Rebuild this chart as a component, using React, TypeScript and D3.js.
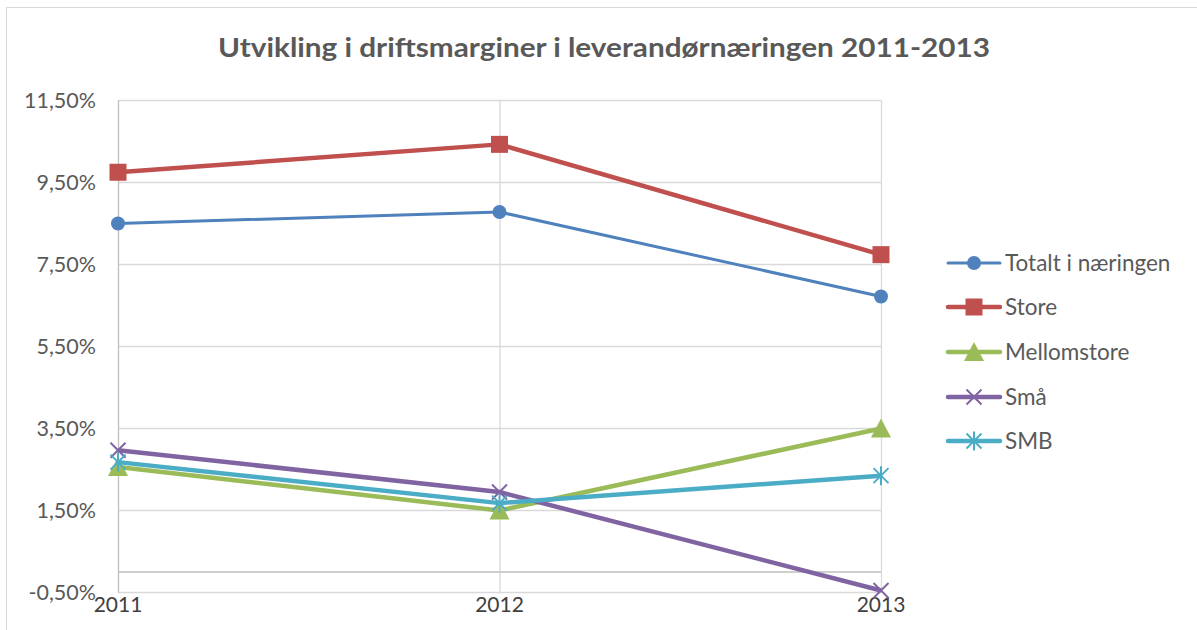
import React from "react";
import * as d3 from "d3";

const years = ["2011", "2012", "2013"];
const seriesNames = ["Totalt i næringen", "Store", "Mellomstore", "Små", "SMB"];
const totalt = [8.5, 8.78, 6.72];
const store = [9.75, 10.43, 7.74];
const mellomstore = [2.56, 1.5, 3.5];
const sma = [2.97, 1.95, -0.45];
const smb = [2.68, 1.68, 2.35];
const yTicks = [-0.5, 1.5, 3.5, 5.5, 7.5, 9.5, 11.5];
const title = "Utvikling i driftsmarginer i leverandørnæringen 2011-2013";

const seriesValues = [totalt, store, mellomstore, sma, smb];
const colors = ["#4F81BD", "#C0504D", "#9BBB59", "#8064A2", "#4BACC6"];
const widths = [3, 4.5, 4.5, 4.5, 4.5];
const markers = ["circle", "square", "triangle", "x", "star"];

const FONT = "Lato, 'Open Sans', sans-serif";

function Marker({ type, x, y, color }: { type: string; x: number; y: number; color: string }) {
  if (type === "circle") return <circle cx={x} cy={y} r={7} fill={color} />;
  if (type === "square") return <rect x={x - 8.5} y={y - 8.5} width={17} height={17} fill={color} />;
  if (type === "triangle") {
    const p = d3.path();
    p.moveTo(x, y - 10);
    p.lineTo(x + 10, y + 9);
    p.lineTo(x - 10, y + 9);
    p.closePath();
    return <path d={p.toString()} fill={color} />;
  }
  if (type === "x") {
    const s = 7.5;
    return (
      <g stroke={color} strokeWidth={2}>
        <line x1={x - s} y1={y - s} x2={x + s} y2={y + s} />
        <line x1={x - s} y1={y + s} x2={x + s} y2={y - s} />
      </g>
    );
  }
  const s = 7.5;
  return (
    <g stroke={color} strokeWidth={2}>
      <line x1={x - s} y1={y - s} x2={x + s} y2={y + s} />
      <line x1={x - s} y1={y + s} x2={x + s} y2={y - s} />
      <line x1={x} y1={y - s - 2} x2={x} y2={y + s + 2} />
    </g>
  );
}

export default function App() {
  const x = d3.scalePoint<string>().domain(years).range([118, 881]);
  const y = d3.scaleLinear().domain([-0.5, 11.5]).range([592.5, 100.5]);
  const line = d3
    .line<number>()
    .x((_, i) => x(years[i]) as number)
    .y((d) => y(d));
  const fmt = (v: number) => v.toFixed(2).replace(".", ",") + "%";

  const legendY = [263, 307, 352, 397, 441];

  return (
    <svg
      width={1197}
      height={630}
      style={{ position: "absolute", left: 0, top: 0, background: "#fff" }}
      fontFamily={FONT}
    >
      <rect x={6.5} y={7.5} width={1250} height={700} fill="#fff" stroke="#D9D9D9" strokeWidth={1} />
      <text
        x={604}
        y={57}
        textAnchor="middle"
        fontSize={26}
        fontWeight="bold"
        fill="#595959"
        textLength={772}
        lengthAdjust="spacingAndGlyphs"
      >
        {title}
      </text>
      {yTicks.map((t) => (
        <line key={t} x1={118} x2={881} y1={y(t)} y2={y(t)} stroke="#D9D9D9" strokeWidth={1.3} />
      ))}
      {years.map((yr) => (
        <line
          key={yr}
          x1={(x(yr) as number) + 0.5}
          x2={(x(yr) as number) + 0.5}
          y1={y(11.5)}
          y2={y(-0.5)}
          stroke={yr === "2011" ? "#BFBFBF" : "#D9D9D9"}
          strokeWidth={1.3}
        />
      ))}
      <line x1={118} x2={881} y1={y(0)} y2={y(0)} stroke="#BFBFBF" strokeWidth={1.3} />
      {yTicks.map((t) => (
        <text key={t} x={96} y={y(t)} dy="0.35em" textAnchor="end" fontSize={21.5} fill="#595959">
          {fmt(t)}
        </text>
      ))}
      {years.map((yr) => (
        <text key={yr} x={x(yr) as number} y={612} textAnchor="middle" fontSize={21} fill="#404040">
          {yr}
        </text>
      ))}
      {seriesValues.map((vals, si) => (
        <g key={si}>
          <path d={line(vals) || ""} fill="none" stroke={colors[si]} strokeWidth={widths[si]} strokeLinejoin="round" />
          {vals.map((v, i) => (
            <Marker key={i} type={markers[si]} x={x(years[i]) as number} y={y(v)} color={colors[si]} />
          ))}
        </g>
      ))}
      {seriesNames.map((name, si) => (
        <g key={name}>
          <line
            x1={948}
            x2={1000}
            y1={legendY[si]}
            y2={legendY[si]}
            stroke={colors[si]}
            strokeWidth={widths[si]}
            strokeLinecap="round"
          />
          <Marker type={markers[si]} x={974} y={legendY[si]} color={colors[si]} />
          <text x={1005} y={legendY[si]} dy="0.35em" fontSize={22.5} fill="#595959">
            {name}
          </text>
        </g>
      ))}
    </svg>
  );
}
